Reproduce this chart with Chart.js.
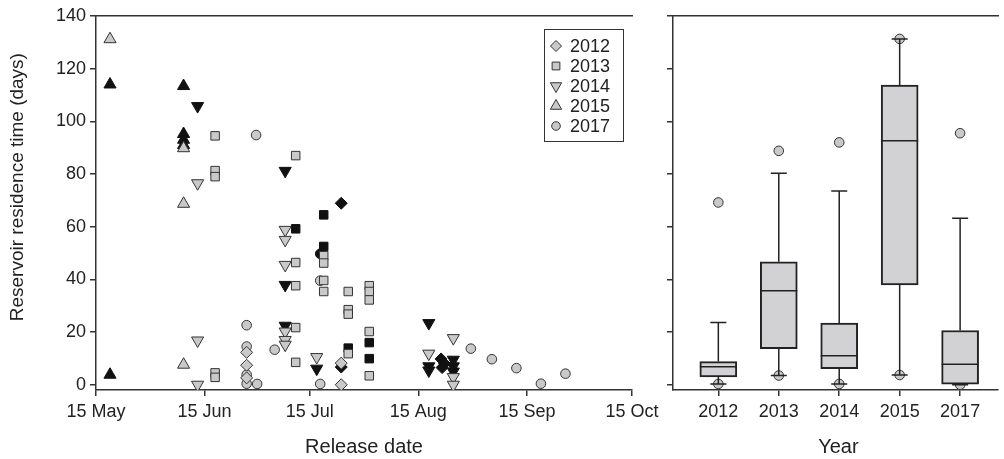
<!DOCTYPE html>
<html>
<head>
<meta charset="utf-8">
<script src="https://cdn.jsdelivr.net/npm/chart.js@4.4.1/dist/chart.umd.min.js"></script>
<style>
  body { margin: 0; background: #fff; }
  #wrap { position: relative; width: 1004px; height: 459px; overflow: hidden; }
  canvas { position: absolute; top: 0; }
  #dateChart { left: 0; }
  #yearChart { left: 640px; }
</style>
</head>
<body>
<div id="wrap">
  <canvas id="dateChart" width="680" height="459"></canvas>
  <canvas id="yearChart" width="364" height="459"></canvas>
</div>
<script>
// Release date axis, counted in days after 15 May
const dateTicks = [0, 31, 61, 92, 123, 153];
const dateLabels = ['15 May', '15 Jun', '15 Jul', '15 Aug', '15 Sep', '15 Oct'];
const valueTicks = [0, 20, 40, 60, 80, 100, 120, 140];
const years = ['2012', '2013', '2014', '2015', '2017'];

// [days after 15 May, residence time (days)] - grey and black symbols
const pts2012 = [[43, 12.3], [43, 7.4], [43, 2.6], [70, 8.2], [70, 0]];
const pts2012Dark = [[70, 68.9], [70, 6.7], [98.5, 9.8], [99.5, 8.0], [98.8, 6.5]];
const pts2013 = [[34, 94.5], [34, 81.3], [34, 79.0], [34, 4.5], [34, 2.8], [57, 87.0], [57, 46.4], [57, 37.6],
  [57, 21.7], [57, 8.5], [65, 49.0], [65, 46.2], [65, 39.6], [65, 35.4], [72, 35.4], [72, 28.5], [72, 26.8],
  [72, 11.8], [78, 37.6], [78, 35.4], [78, 32.2], [78, 20.2], [78, 3.4]];
const pts2013Dark = [[57, 59.2], [65, 64.5], [65, 52.5], [72, 13.9], [78, 16.0], [78, 9.9]];
const pts2014 = [[29, 76.5], [29, 16.8], [29, 0], [54, 58.8], [54, 55.0], [54, 45.5], [54, 20.2], [54, 17.0],
  [54, 15.2], [63, 10.5], [95, 11.8], [102, 17.7], [102, 2.9], [102, 0]];
const pts2014Dark = [[29, 105.8], [54, 81.2], [54, 37.9], [54, 22.4], [63, 6.1], [95, 23.4], [95, 7.0], [95, 5.4],
  [102, 9.5], [102, 7.0], [102, 5.0]];
const pts2015 = [[4, 131.2], [25, 89.8], [25, 68.7], [25, 7.6]];
const pts2015Dark = [[4, 114.0], [4, 3.8], [25, 113.4], [25, 95.2], [25, 93.0], [25, 91.0]];
const pts2017 = [[43, 22.6], [43, 14.5], [43, 3.8], [43, 0.4], [46, 0.3], [45.7, 94.8], [51, 13.3], [64, 39.5],
  [64, 0.3], [107, 13.7], [113, 9.7], [120, 6.3], [127, 0.4], [134, 4.2]];
const pts2017Dark = [[64, 49.7]];

// Box plot summary by year
const boxLow = [0.3, 3.5, 0.3, 3.7, 0];
const boxQ1 = [3.0, 13.7, 6.1, 37.9, 0.2];
const boxMedian = [6.8, 35.7, 11.0, 92.6, 7.8];
const boxQ3 = [8.8, 46.7, 23.4, 113.8, 20.6];
const boxHigh = [23.6, 80.3, 73.6, 131.3, 63.2];
const outHigh = [69.2, 88.8, 92.0, 131.3, 95.5];
const outLow = [0.3, 3.5, 0.3, 3.7, 0];

const fontFamily = "'Liberation Sans', Arial, sans-serif";
const axisColor = '#333';
const textColor = '#222';
const greyFill = '#c9c9c9';
const darkFill = '#111';
const symbolStyle = ['rectRot', 'rect', 'triangle', 'triangle', 'circle'];
const symbolRotation = [0, 0, 180, 0, 0];
const symbolRadius = [6, 6, 7, 7, 4.8];

function makeSet(points, i, dark) {
  return {
    label: years[i],
    data: points.map(p => ({ x: p[0], y: p[1] })),
    pointStyle: symbolStyle[i],
    rotation: symbolRotation[i],
    pointRadius: symbolRadius[i],
    pointBackgroundColor: dark ? darkFill : greyFill,
    pointBorderColor: dark ? darkFill : axisColor,
    pointBorderWidth: 1
  };
}

const scatterSets = [
  makeSet(pts2012, 0, false), makeSet(pts2013, 1, false), makeSet(pts2014, 2, false),
  makeSet(pts2015, 3, false), makeSet(pts2017, 4, false),
  makeSet(pts2012Dark, 0, true), makeSet(pts2013Dark, 1, true), makeSet(pts2014Dark, 2, true),
  makeSet(pts2015Dark, 3, true), makeSet(pts2017Dark, 4, true)
];

// Legend box drawn inside the plot area (top right)
const legendBox = {
  id: 'legendBox',
  afterDraw(chart) {
    const { ctx, chartArea } = chart;
    const left = chartArea.right - 88;
    const top = chartArea.top + 13;
    ctx.save();
    ctx.strokeStyle = axisColor;
    ctx.lineWidth = 1;
    ctx.strokeRect(left + 0.5, top + 0.5, 79, 112);
    years.forEach((yr, i) => {
      const cy = top + 17 + i * 20;
      ctx.fillStyle = greyFill;
      ctx.strokeStyle = axisColor;
      ctx.lineWidth = 1;
      if (Chart.helpers && Chart.helpers.drawPoint) {
        Chart.helpers.drawPoint(ctx, {
          pointStyle: symbolStyle[i], radius: symbolRadius[i] - 0.5,
          rotation: symbolRotation[i], borderWidth: 1
        }, left + 12, cy);
      }
      ctx.fillStyle = textColor;
      ctx.font = '18px ' + fontFamily;
      ctx.textBaseline = 'middle';
      ctx.textAlign = 'left';
      ctx.fillText(yr, left + 26, cy + 1);
    });
    ctx.restore();
  }
};

// Whiskers, caps and medians for the box plot
const whiskers = {
  id: 'whiskers',
  afterDatasetsDraw(chart) {
    const { ctx, scales: { x, y } } = chart;
    const bars = chart.getDatasetMeta(0).data;
    ctx.save();
    ctx.strokeStyle = '#222';
    years.forEach((yr, i) => {
      const px = x.getPixelForValue(i);
      const half = bars[i].width / 2;
      ctx.lineWidth = 1.5;
      ctx.beginPath();
      ctx.moveTo(px, y.getPixelForValue(boxQ3[i]));
      ctx.lineTo(px, y.getPixelForValue(boxHigh[i]));
      ctx.moveTo(px, y.getPixelForValue(boxQ1[i]));
      ctx.lineTo(px, y.getPixelForValue(boxLow[i]));
      ctx.moveTo(px - 8, y.getPixelForValue(boxHigh[i]));
      ctx.lineTo(px + 8, y.getPixelForValue(boxHigh[i]));
      ctx.moveTo(px - 8, y.getPixelForValue(boxLow[i]));
      ctx.lineTo(px + 8, y.getPixelForValue(boxLow[i]));
      ctx.stroke();
      ctx.beginPath();
      ctx.moveTo(px - half, y.getPixelForValue(boxMedian[i]));
      ctx.lineTo(px + half, y.getPixelForValue(boxMedian[i]));
      ctx.stroke();
    });
    ctx.restore();
  }
};

function fixedTicks(values) {
  return scale => { scale.ticks = values.map(v => ({ value: v })); };
}

const tickFont = { family: fontFamily, size: 18 };
const titleFont = { family: fontFamily, size: 20 };
const topBorder = {
  type: 'linear',
  position: 'top',
  grid: { display: false },
  ticks: { display: false },
  border: { display: true, color: axisColor, width: 1.5 },
  afterFit: s => { s.height = 0; }
};

new Chart(document.getElementById('dateChart'), {
  type: 'scatter',
  data: { datasets: scatterSets },
  options: {
    responsive: false,
    animation: false,
    devicePixelRatio: 1,
    layout: { padding: { top: 16, right: 48, left: 0, bottom: 0 } },
    plugins: { legend: { display: false }, tooltip: { enabled: false } },
    scales: {
      x: {
        type: 'linear',
        min: 0,
        max: 153,
        afterBuildTicks: fixedTicks(dateTicks),
        grid: { drawOnChartArea: false, color: axisColor, lineWidth: 1.5, tickLength: 6 },
        border: { color: axisColor, width: 1.5 },
        ticks: {
          color: textColor, font: tickFont, padding: 5, maxRotation: 0, autoSkip: false,
          callback: v => dateLabels[dateTicks.indexOf(v)]
        },
        title: { display: true, text: 'Release date', color: textColor, font: titleFont, padding: { top: 0, bottom: 0 } },
        afterFit: s => { s.height = 69; }
      },
      xTop: topBorder,
      y: {
        min: -2,
        max: 140,
        afterBuildTicks: fixedTicks(valueTicks),
        grid: { drawOnChartArea: false, color: axisColor, lineWidth: 1.5, tickLength: 6 },
        border: { color: axisColor, width: 1.5 },
        ticks: { color: textColor, font: tickFont, padding: 4 },
        title: {
          display: true, text: '      Reservoir residence time (days)', color: textColor,
          font: { family: fontFamily, size: 19 }, padding: { top: 6, bottom: 0 }
        },
        afterFit: s => { s.width = 96; }
      }
    }
  },
  plugins: [legendBox]
});

new Chart(document.getElementById('yearChart'), {
  type: 'scatter',
  data: {
    datasets: [
      {
        type: 'bar',
        label: 'box',
        data: years.map((yr, i) => ({ x: i, y: [boxQ1[i], boxQ3[i]] })),
        backgroundColor: '#d2d2d4',
        borderColor: '#222',
        borderWidth: 2,
        borderSkipped: false,
        barThickness: 37,
        order: 0
      },
      {
        type: 'scatter',
        label: 'outliers',
        data: years.flatMap((yr, i) => [{ x: i, y: outHigh[i] }, { x: i, y: outLow[i] }]),
        pointStyle: 'circle',
        pointRadius: 4.8,
        pointBackgroundColor: greyFill,
        pointBorderColor: axisColor,
        pointBorderWidth: 1,
        order: 1
      }
    ]
  },
  options: {
    responsive: false,
    animation: false,
    devicePixelRatio: 1,
    layout: { padding: { top: 16, right: 0, left: 0, bottom: 0 } },
    plugins: { legend: { display: false }, tooltip: { enabled: false } },
    scales: {
      x: {
        type: 'linear',
        min: -0.75,
        max: 4.63,
        offset: false,
        afterBuildTicks: fixedTicks([0, 1, 2, 3, 4]),
        grid: { drawOnChartArea: false, offset: false, color: axisColor, lineWidth: 1.5, tickLength: 6 },
        border: { color: axisColor, width: 1.5 },
        ticks: { color: textColor, font: tickFont, padding: 5, maxRotation: 0, autoSkip: false, callback: v => years[v] },
        title: { display: true, text: ' Year', color: textColor, font: titleFont, padding: { top: 0, bottom: 0 } },
        afterFit: s => { s.height = 69; }
      },
      xTop: topBorder,
      y: {
        min: -2,
        max: 140,
        afterBuildTicks: fixedTicks(valueTicks),
        grid: { drawOnChartArea: false, color: axisColor, lineWidth: 1.5, tickLength: 6 },
        border: { color: axisColor, width: 1.5 },
        ticks: { display: false },
        afterFit: s => { s.width = 33; }
      }
    }
  },
  plugins: [whiskers]
});
</script>
</body>
</html>
